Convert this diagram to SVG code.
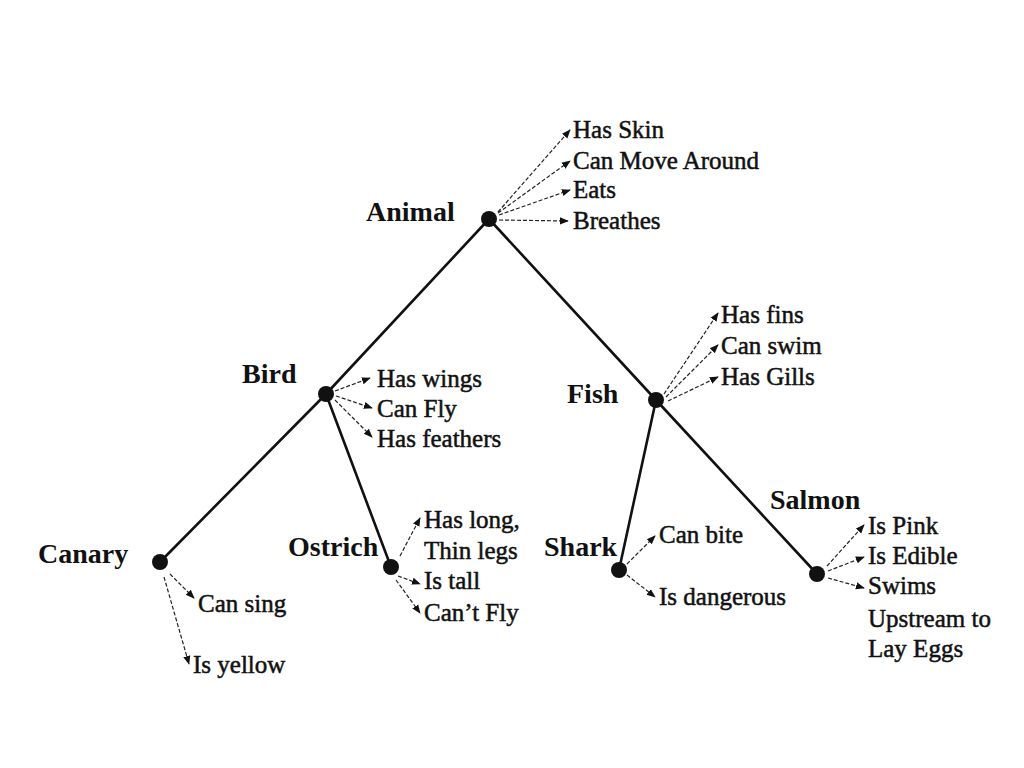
<svg xmlns="http://www.w3.org/2000/svg" width="1024" height="768" viewBox="0 0 1024 768">
<style>
.edge{stroke:#111;stroke-width:2.6;fill:none;stroke-linecap:round}
.attr{stroke:#222;stroke-width:1.2;stroke-dasharray:4 2;fill:none;marker-end:url(#ah)}
.dot{fill:#111}
.lbl{font-family:"Liberation Serif","Times New Roman",serif;font-weight:bold;font-size:28px;fill:#111}
.at{font-family:"Liberation Serif","Times New Roman",serif;font-size:25px;fill:#111;stroke:#111;stroke-width:0.5}
</style>
<defs>
<marker id="ah" viewBox="0 0 10 10" refX="9" refY="5" markerWidth="9" markerHeight="9" markerUnits="userSpaceOnUse" orient="auto">
<path d="M0,1 L10,5 L0,9 Z" fill="#111"/>
</marker>
</defs>
<rect width="1024" height="768" fill="#fff"/>
<g id="connectors">
<line class="edge" x1="489" y1="219" x2="326" y2="394"/>
<line class="edge" x1="489" y1="219" x2="656" y2="400"/>
<line class="edge" x1="326" y1="394" x2="160" y2="562"/>
<line class="edge" x1="326" y1="394" x2="391" y2="567"/>
<line class="edge" x1="656" y1="400" x2="619" y2="570"/>
<line class="edge" x1="656" y1="400" x2="817" y2="574"/>
<line class="attr" x1="498" y1="212" x2="570" y2="130"/>
<line class="attr" x1="498" y1="213" x2="570" y2="161"/>
<line class="attr" x1="499" y1="215" x2="570" y2="190"/>
<line class="attr" x1="499" y1="220" x2="568" y2="221"/>
<line class="attr" x1="335" y1="391" x2="370" y2="378"/>
<line class="attr" x1="336" y1="396" x2="372" y2="408"/>
<line class="attr" x1="335" y1="400" x2="372" y2="437"/>
<line class="attr" x1="664" y1="394" x2="718" y2="313"/>
<line class="attr" x1="666" y1="397" x2="718" y2="345"/>
<line class="attr" x1="668" y1="401" x2="718" y2="377"/>
<line class="attr" x1="170" y1="574" x2="194" y2="598"/>
<line class="attr" x1="164" y1="577" x2="189" y2="664"/>
<line class="attr" x1="400" y1="556" x2="420" y2="518"/>
<line class="attr" x1="398" y1="576" x2="420" y2="584"/>
<line class="attr" x1="396" y1="580" x2="420" y2="613"/>
<line class="attr" x1="627" y1="564" x2="655" y2="536"/>
<line class="attr" x1="627" y1="575" x2="655" y2="597"/>
<line class="attr" x1="827" y1="566" x2="864" y2="525"/>
<line class="attr" x1="828" y1="571" x2="864" y2="557"/>
<line class="attr" x1="828" y1="578" x2="864" y2="588"/>
</g>
<g id="animal">
<circle class="dot" cx="489" cy="219" r="8"/>
<text class="lbl" x="366" y="221">Animal</text>
<text class="at" x="573" y="138">Has Skin</text>
<text class="at" x="573" y="169">Can Move Around</text>
<text class="at" x="573" y="198">Eats</text>
<text class="at" x="573" y="229">Breathes</text>
</g>
<g id="bird">
<circle class="dot" cx="326" cy="394" r="8"/>
<text class="lbl" x="242" y="383">Bird</text>
<text class="at" x="377" y="387">Has wings</text>
<text class="at" x="377" y="417">Can Fly</text>
<text class="at" x="377" y="447">Has feathers</text>
</g>
<g id="fish">
<circle class="dot" cx="656" cy="400" r="8"/>
<text class="lbl" x="567" y="403">Fish</text>
<text class="at" x="721" y="323">Has fins</text>
<text class="at" x="721" y="354">Can swim</text>
<text class="at" x="721" y="385">Has Gills</text>
</g>
<g id="canary">
<circle class="dot" cx="160" cy="562" r="8"/>
<text class="lbl" x="38" y="563">Canary</text>
<text class="at" x="198" y="612">Can sing</text>
<text class="at" x="193" y="673">Is yellow</text>
</g>
<g id="ostrich">
<circle class="dot" cx="391" cy="567" r="8"/>
<text class="lbl" x="288" y="556">Ostrich</text>
<text class="at" x="424" y="528">Has long,</text>
<text class="at" x="424" y="559">Thin legs</text>
<text class="at" x="424" y="589">Is tall</text>
<text class="at" x="424" y="621">Can’t Fly</text>
</g>
<g id="shark">
<circle class="dot" cx="619" cy="570" r="8"/>
<text class="lbl" x="544" y="556">Shark</text>
<text class="at" x="659" y="543">Can bite</text>
<text class="at" x="659" y="605">Is dangerous</text>
</g>
<g id="salmon">
<circle class="dot" cx="817" cy="574" r="8"/>
<text class="lbl" x="770" y="509">Salmon</text>
<text class="at" x="868" y="534">Is Pink</text>
<text class="at" x="868" y="564">Is Edible</text>
<text class="at" x="868" y="594">Swims</text>
<text class="at" x="868" y="627">Upstream to</text>
<text class="at" x="868" y="657">Lay Eggs</text>
</g>
</svg>
